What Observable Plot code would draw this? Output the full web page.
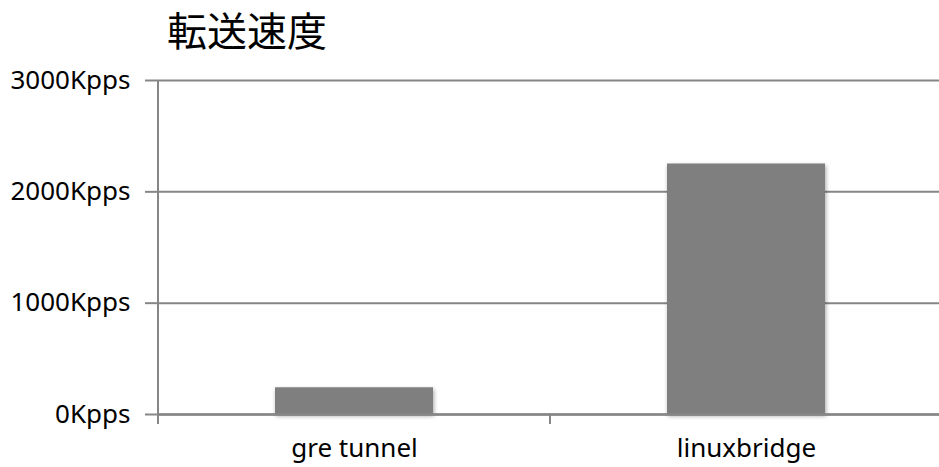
<!DOCTYPE html>
<html>
<head>
<meta charset="utf-8">
<script src="https://cdn.jsdelivr.net/npm/d3@7"></script>
<script src="https://cdn.jsdelivr.net/npm/@observablehq/plot@0.6"></script>
<style>
  html, body { margin: 0; padding: 0; background: #fff; overflow: hidden; }
  #wrap { position: relative; width: 939px; height: 467px; overflow: hidden; }
  #title {
    position: absolute; left: 167px; top: 9px;
    font-family: "Noto Sans CJK JP", sans-serif; font-size: 40px; line-height: 1;
    color: #000; font-weight: 400;
  }
  #chart { position: absolute; left: 0; top: 60px; }
  #chart svg text { fill: #000; }
  #chart g[aria-label="bar"] rect { filter: drop-shadow(1px 2px 2px rgba(0,0,0,0.35)); }
</style>
</head>
<body>
<div id="wrap">
  <div id="title">転送速度</div>
  <div id="chart"></div>
</div>
<script>
// Packet forwarding rate per datapath (Kpps)
const categories = ["gre tunnel", "linuxbridge"];
const values = [240, 2250];
const yTicks = [0, 1000, 2000, 3000];
const unit = "Kpps";

const data = categories.map((c, i) => ({category: c, value: values[i]}));
const gray = "#868686";

const plot = Plot.plot({
  width: 939,
  height: 407,
  marginTop: 20,
  marginBottom: 53,
  marginLeft: 158,
  marginRight: -3,
  style: {
    fontFamily: "'Noto Sans', sans-serif",
    fontSize: "26px",
    color: gray,
    background: "#fff",
    overflow: "visible"
  },
  x: {domain: categories, paddingInner: 0.597, paddingOuter: 0.2985, label: null, tickSize: 0, tickPadding: 24},
  y: {domain: [0, 3000], ticks: yTicks, tickSize: 13, tickPadding: 15, tickFormat: d => d + unit, label: null},
  marks: [
    Plot.ruleY(yTicks, {stroke: gray, strokeWidth: 2}),
    Plot.barY(data, {x: "category", y: "value", fill: "#7f7f7f"}),
    Plot.ruleY([0], {stroke: gray, strokeWidth: 2.5})
  ]
});

document.getElementById("chart").appendChild(plot);

// Tick lines on the y axis share the grid colour and weight
d3.select(plot).selectAll('g[aria-label^="y-axis"] line, g[aria-label^="y-axis"] path')
  .attr("stroke", gray).attr("stroke-width", 2);

// Category boundaries: vertical axis line at the first, short ticks below the baseline at each
const xs = plot.scale("x");
const ys = plot.scale("y");
const band = d3.scaleBand(xs.domain, xs.range)
  .paddingInner(xs.paddingInner)
  .paddingOuter(xs.paddingOuter)
  .align(xs.align ?? 0.5);
const half = (band.step() - band.bandwidth()) / 2;
const bounds = categories.map(c => band(c) - half);
const yBottom = Math.max(...ys.range);
const yTop = Math.min(...ys.range);

const g = d3.select(plot).append("g").attr("stroke", gray).attr("stroke-width", 2);
g.append("line").attr("x1", bounds[0]).attr("x2", bounds[0]).attr("y1", yTop).attr("y2", yBottom + 10);
g.selectAll(".bt").data(bounds.slice(1)).join("line")
  .attr("x1", d => d).attr("x2", d => d).attr("y1", yBottom).attr("y2", yBottom + 10);
</script>
</body>
</html>
